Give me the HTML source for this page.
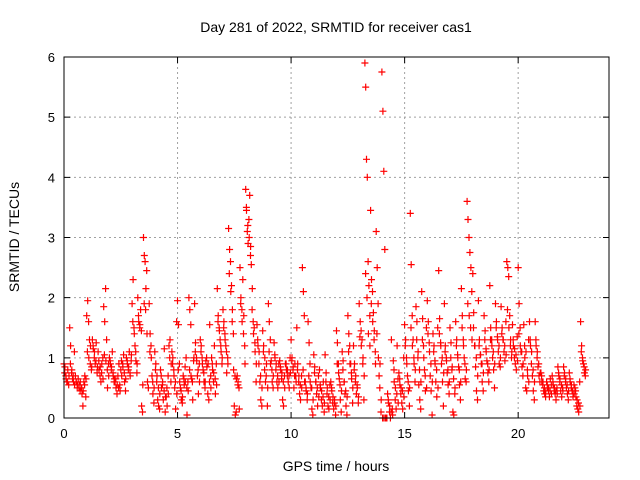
<!DOCTYPE html>
<html><head><meta charset="utf-8"><style>
body{margin:0;background:#fff;}
svg{display:block;font-family:"Liberation Sans",sans-serif;}
</style></head><body>
<svg id="chart" width="640" height="480" viewBox="0 0 640 480">
<rect width="640" height="480" fill="#fff"/>
<text x="336" y="32" font-size="14" text-anchor="middle" fill="#000">Day 281 of 2022, SRMTID for receiver cas1</text>
<g id="grid"></g>
<g id="pts"></g>
<rect x="64" y="57" width="545" height="361" fill="none" stroke="#000" stroke-width="1"/>
<g id="ticks"></g>
<text x="336" y="471" font-size="14" text-anchor="middle">GPS time / hours</text>
<text transform="translate(19,237) rotate(-90)" font-size="14" text-anchor="middle">SRMTID / TECUs</text>
</svg>
<script>
const xTicks=[0,5,10,15,20];
const yTicks=[0,1,2,3,4,5,6];
const slotStarts=[0,0.25,0.5,0.75,1,1.25,1.5,1.75,2,2.25,2.5,2.75,3,3.25,3.5,3.75,4,4.25,4.5,4.75,5,5.25,5.5,5.75,6,6.25,6.5,6.75,7,7.25,7.5,7.75,8,8.25,8.5,8.75,9,9.25,9.5,9.75,10,10.25,10.5,10.75,11,11.25,11.5,11.75,12,12.25,12.5,12.75,13,13.25,13.5,13.75,14,14.25,14.5,14.75,15,15.25,15.5,15.75,16,16.25,16.5,16.75,17,17.25,17.5,17.75,18,18.25,18.5,18.75,19,19.25,19.5,19.75,20,20.25,20.5,20.75,21,21.25,21.5,21.75,22,22.25,22.5,22.75];
const slotValues=[
[.9,.85,.7,.6,.8,.55],[1.5,1.2,.75,.65,.6,1.1],[.7,.6,.5,.65,.55,.45],[.5,.4,.2,.6,.7,.35],
[1.7,1.95,1.6,1.3,1.2,.8],[1.3,1.15,1.0,.9,1.25,.75],[1.1,.8,.7,.6,.9,1.0],[1.85,1.6,2.15,1.3,.5,.9],
[1.0,.9,.8,1.1,.7,.6],[.6,.5,.4,.7,.9,.55],[.8,.7,.9,1.05,.6,.45],[1.0,.9,.8,1.1,.7,.95],
[1.9,2.3,1.5,1.2,.95,.75],[2.0,1.6,1.5,1.8,.2,.1],[3.0,2.7,2.6,2.15,2.45,.6,.5],[1.9,1.4,1.2,.7,.4,.25],
[1.1,.9,.6,.3,.2,.15],[.8,.5,.55,.3,1.15,.1],[.35,.2,.7,1.2,1.3,.6],[1.1,1.0,.8,.5,.15,1.6],
[1.95,1.55,.9,.5,.3,.25],[.7,.55,.85,1.0,.05,.6],[2.0,1.8,1.55,.65,.3,.95],[1.9,1.25,1.0,.7,.4,.9],
[1.3,1.2,1.0,.8,.6,.5],[.95,.85,.4,.3,1.55,.7],[1.0,.8,.6,1.2,.4,.9],[2.15,1.7,1.5,1.3,1.1,.9],
[1.8,1.6,1.4,1.2,.75,1.0],[3.15,2.8,2.6,2.2,1.8,1.4],[.2,.05,.1,.7,.6,.5],[2.5,2.0,1.8,2.3,1.7,1.2],
[3.8,3.45,3.1,2.9,3.3,3.7,2.7],[2.55,2.15,1.6,1.5,1.1,.6],[1.55,1.2,.9,.6,.3,.2],[1.45,1.2,.8,.6,.9,.2],
[1.9,1.6,1.3,.95,.6,.5],[1.25,1.0,.8,.6,.5,.9],[.95,.8,.65,.3,.2,.7],[.9,.8,.7,.6,.5,1.0],
[1.3,1.0,.8,.5,.9,.7],[1.5,.9,.6,.4,.3,.7],[2.5,2.1,1.7,.6,.45,.3],[1.6,1.25,.9,.5,.15,.05],
[1.05,.85,.6,.4,.2,.7],[.8,.5,.3,.2,.6,.1],[1.05,.75,.4,.2,.15,.55],[.6,.45,.25,.15,.3,.05],
[1.45,1.25,.9,.65,.3,.1],[1.1,.95,.6,.4,.2,.05],[1.7,1.4,1.2,.9,.65,.25],[1.2,.9,.6,.4,.5,.25],
[1.9,1.6,1.45,1.3,1.0,.3],[5.9,5.5,4.3,4.0,2.6,2.2,1.7],[3.45,2.3,2.1,1.75,1.45,1.1],[3.1,2.5,1.9,.7,.9,.1],
[5.75,5.1,4.1,2.8,0,0],[.4,.25,.1,0,1.3,.15],[.95,.6,.3,.15,1.2,.65],[.75,.55,.4,.25,.15,1.0],
[1.55,1.3,1.0,.7,.45,.2],[3.4,2.55,1.7,1.3,.9,.6],[1.85,1.6,1.0,.55,.3,.15],[2.1,1.65,1.2,.8,.45,1.5],
[1.95,1.6,1.25,.7,.45,.05],[1.4,1.2,.95,.6,.35,1.5],[2.45,1.65,1.25,.9,.6,.2],[1.9,1.2,1.0,.75,.55,.4],
[1.5,1.25,.8,.1,.05,.4],[1.6,1.3,1.05,.85,.55,.3],[2.15,1.7,1.3,1.0,.65,.6],[3.6,3.3,3.0,2.75,2.5,2.1],
[2.4,1.75,1.2,.85,.45,.3],[1.95,1.3,1.05,.9,.6,.45],[1.7,1.45,1.15,.95,.75,.6],[2.2,1.5,1.3,1.0,.8,.5],
[1.9,1.6,1.35,1.1,.9,.85],[1.85,1.5,1.3,1.1,.95,1.6],[2.6,2.5,2.35,1.7,1.3,1.0],[1.55,1.2,1.0,.9,.8,1.35],
[2.5,1.9,1.5,1.1,.85,.7],[1.55,1.0,.5,.45,.7,1.3],[1.6,1.2,.9,.7,.45,.3],[1.6,1.2,1.0,.85,.7,.6],
[.75,.6,.55,.45,.4,.35],[.6,.5,.45,.35,.65,.55],[.7,.55,.45,.4,.3,.5],[.85,.7,.6,.45,.35,.5],
[.85,.75,.6,.5,.4,.3],[.75,.6,.5,.45,.35,.55],[.5,.35,.2,.15,.1,.6],[1.6,1.2,1.0,.9,.75,.7]
];
const slotFill=[
[.75,.65,.6,.7],[.9,.8,.7,.55],[.6,.55,.5,.6],[.5,.45,.55,.65],
[1.1,1.0,.9,.85],[1.2,1.1,.95,.85],[.95,.85,.75,.65],[1.05,.95,.8,.7],
[.95,.85,.75,.65],[.65,.55,.5,.45],[.95,.85,.75,.65],[.95,.85,.75,1.05],
[1.6,1.4,1.1,.9],[1.7,1.55,1.45,.55],[1.9,1.8,1.4,.5],[1.1,1.0,.6,.5],
[.8,.7,.5,.4],[.7,.6,.45,.35],[.5,.4,1.0,.9],[.9,.7,.6,.4],
[.8,.6,.45,.35],[.65,.6,.5,.45],[.8,.7,.6,1.0],[1.1,.95,.8,.6],
[1.1,.9,.75,.6],[1.0,.9,.6,.5],[.9,.75,.65,.55],[1.6,1.45,1.2,1.0],
[1.5,1.3,1.1,.9],[2.4,2.1,1.6,.8],[.7,.65,.55,.15],[1.9,1.6,1.4,.9],
[3.5,3.2,3.0,2.85],[1.8,1.4,1.25,.9],[1.3,1.1,.7,.5],[1.1,1.0,.7,.5],
[1.1,.9,.8,.7],[1.05,.9,.7,.6],[.85,.75,.6,.5],[.9,.8,.7,.75],
[.95,.85,.7,.6],[.8,.7,.55,.5],[.8,.6,.5,.4],[.7,.6,.5,.3],
[.75,.6,.5,.35],[.55,.45,.35,.25],[.6,.5,.35,.3],[.5,.35,.25,.2],
[.9,.75,.55,.45],[.8,.6,.45,.35],[1.1,.9,.75,.5],[.8,.7,.55,.35],
[1.35,1.2,.9,.7],[2.4,2.0,1.4,1.2],[1.9,1.6,1.3,.9],[1.4,1.0,.5,.3],
[0,0,0,0],[.3,.2,.1,.05],[.8,.5,.4,.25],[.65,.5,.45,.35],
[1.2,.9,.6,.5],[1.5,1.2,1.0,.8],[1.3,1.1,.8,.6],[1.3,1.0,.7,.5],
[1.4,1.1,.9,.6],[1.1,.9,.8,.5],[1.4,1.2,1.0,.75],[1.1,.95,.8,.6],
[1.0,.85,.65,.5],[1.2,1.0,.8,.6],[1.5,1.2,.9,.8],[1.9,1.7,1.5,1.3],
[1.5,1.2,1.0,.7],[1.2,1.05,.9,.75],[1.3,1.1,.9,.8],[1.3,1.2,1.1,.9],
[1.5,1.3,1.2,1.0],[1.4,1.3,1.2,1.05],[1.8,1.5,1.2,1.1],[1.3,1.15,1.05,.95],
[1.4,1.2,1.1,.9],[1.2,1.1,.8,.6],[1.3,1.1,.8,.6],[1.3,1.1,.9,.75],
[.7,.6,.5,.45],[.55,.5,.45,.4],[.6,.5,.45,.4],[.75,.65,.55,.45],
[.7,.65,.55,.45],[.65,.55,.45,.4],[.45,.3,.25,.2],[1.1,.95,.85,.8]
];
const X0=64,X1=609,Y0=418,Y1=57;
function sx(h){return X0+(h/24)*(X1-X0);}
function sy(v){return Y0-(v/6)*(Y0-Y1);}
const NS="http://www.w3.org/2000/svg";
const grid=document.getElementById('grid'),ticks=document.getElementById('ticks'),pts=document.getElementById('pts');
function mk(t,a,p){const e=document.createElementNS(NS,t);for(const k in a)e.setAttribute(k,a[k]);p.appendChild(e);return e;}
xTicks.forEach(t=>{
  const x=sx(t);
  if(t>0){const g=mk('line',{x1:x,x2:x,y1:Y1,y2:Y0,stroke:'#a0a0a0','stroke-dasharray':'2,3'},grid);
  
  }
  const l=mk('path',{d:`M${x},${Y0}v-6M${x},${Y1}v6`,stroke:'#000'},ticks);
  
  
  const tx=mk('text',{x:x,y:Y0+20,'font-size':13,'text-anchor':'middle'},ticks);tx.textContent=t;
  
  
});
yTicks.forEach(t=>{
  const y=sy(t);
  if(t>0&&t<6){const g=mk('line',{x1:X0,x2:X1,y1:y,y2:y,stroke:'#a0a0a0','stroke-dasharray':'2,3'},grid);
  
  }
  const l=mk('path',{d:`M${X0},${y}h6M${X1},${y}h-6`,stroke:'#000'},ticks);
  
  
  const tx=mk('text',{x:X0-9,y:y+5,'font-size':13,'text-anchor':'end'},ticks);tx.textContent=t;
  
  
});
let d='';
function addSlot(s,vals,off){
  vals.forEach((v,k)=>{
    const x=sx(s+0.25*(k+off)/vals.length),y=sy(v);
    d+=`M${(x-3.5).toFixed(1)},${y.toFixed(1)}h7M${x.toFixed(1)},${(y-3.5).toFixed(1)}v7`;
  });
}
slotStarts.forEach((s,i)=>{
  addSlot(s,slotValues[i],0);
  addSlot(s,slotFill[i],0.5);
});
const p=mk('path',{d:d,stroke:'#ff0000','stroke-width':1.2,fill:'none'},pts);


</script>
</body></html>
